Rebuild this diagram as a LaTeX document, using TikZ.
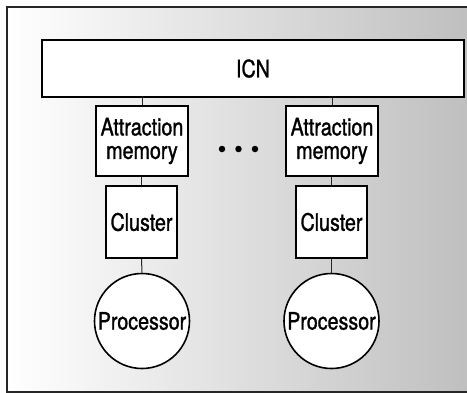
\documentclass[tikz,border=0pt]{standalone}
\usepackage{fontspec}
\setmainfont{TeX Gyre Heros}[FakeStretch=0.82,FakeBold=1.2]
\begin{document}
\begin{tikzpicture}[x=1pt,y=-1pt,
  box/.style={draw=black,line width=1.6pt,fill=white,rectangle,inner sep=0pt,align=center,
    font=\fontsize{24}{23.5}\selectfont},
  proc/.style={draw=black,line width=1.6pt,fill=white,circle,inner sep=0pt,minimum size=95pt,
    font=\fontsize{24}{23.5}\selectfont},
  conn/.style={draw=black!85,line width=1pt},
  dot/.style={circle,fill=black,inner sep=0pt,minimum size=6.5pt}]
\useasboundingbox (0,0) rectangle (467,392);
\shade[left color=white,right color=black!25] (7,7) rectangle (467,392);
\draw[line width=1.3pt,black!85] (467,7) -- (7,7) -- (7,392) -- (467,392);
\node[box,minimum width=422pt,minimum height=57pt] (icn) at (253,68.5) {ICN};
\node[box,minimum width=92pt,minimum height=70pt] (aml) at (142,141) {Attraction\\memory};
\node[box,minimum width=92pt,minimum height=70pt] (amr) at (332,141) {Attraction\\memory};
\node[box,minimum width=71pt,minimum height=72pt] (cll) at (141.5,222) {Cluster};
\node[box,minimum width=71pt,minimum height=72pt] (clr) at (331.5,222) {Cluster};
\node[proc] (pl) at (142,321) {Processor};
\node[proc] (pr) at (331.5,321) {Processor};
\node[dot] (d1) at (222,149) {};
\node[dot] (d2) at (238.5,149) {};
\node[dot] (d3) at (255,149) {};
\draw[conn] (icn.south -| aml.north) -- (aml.north);
\draw[conn] (icn.south -| amr.north) -- (amr.north);
\draw[conn] (aml.south -| cll.north) -- (cll.north);
\draw[conn] (amr.south -| clr.north) -- (clr.north);
\draw[conn] (cll.south) -- (pl.north);
\draw[conn] (clr.south) -- (pr.north);
\end{tikzpicture}
\end{document}
